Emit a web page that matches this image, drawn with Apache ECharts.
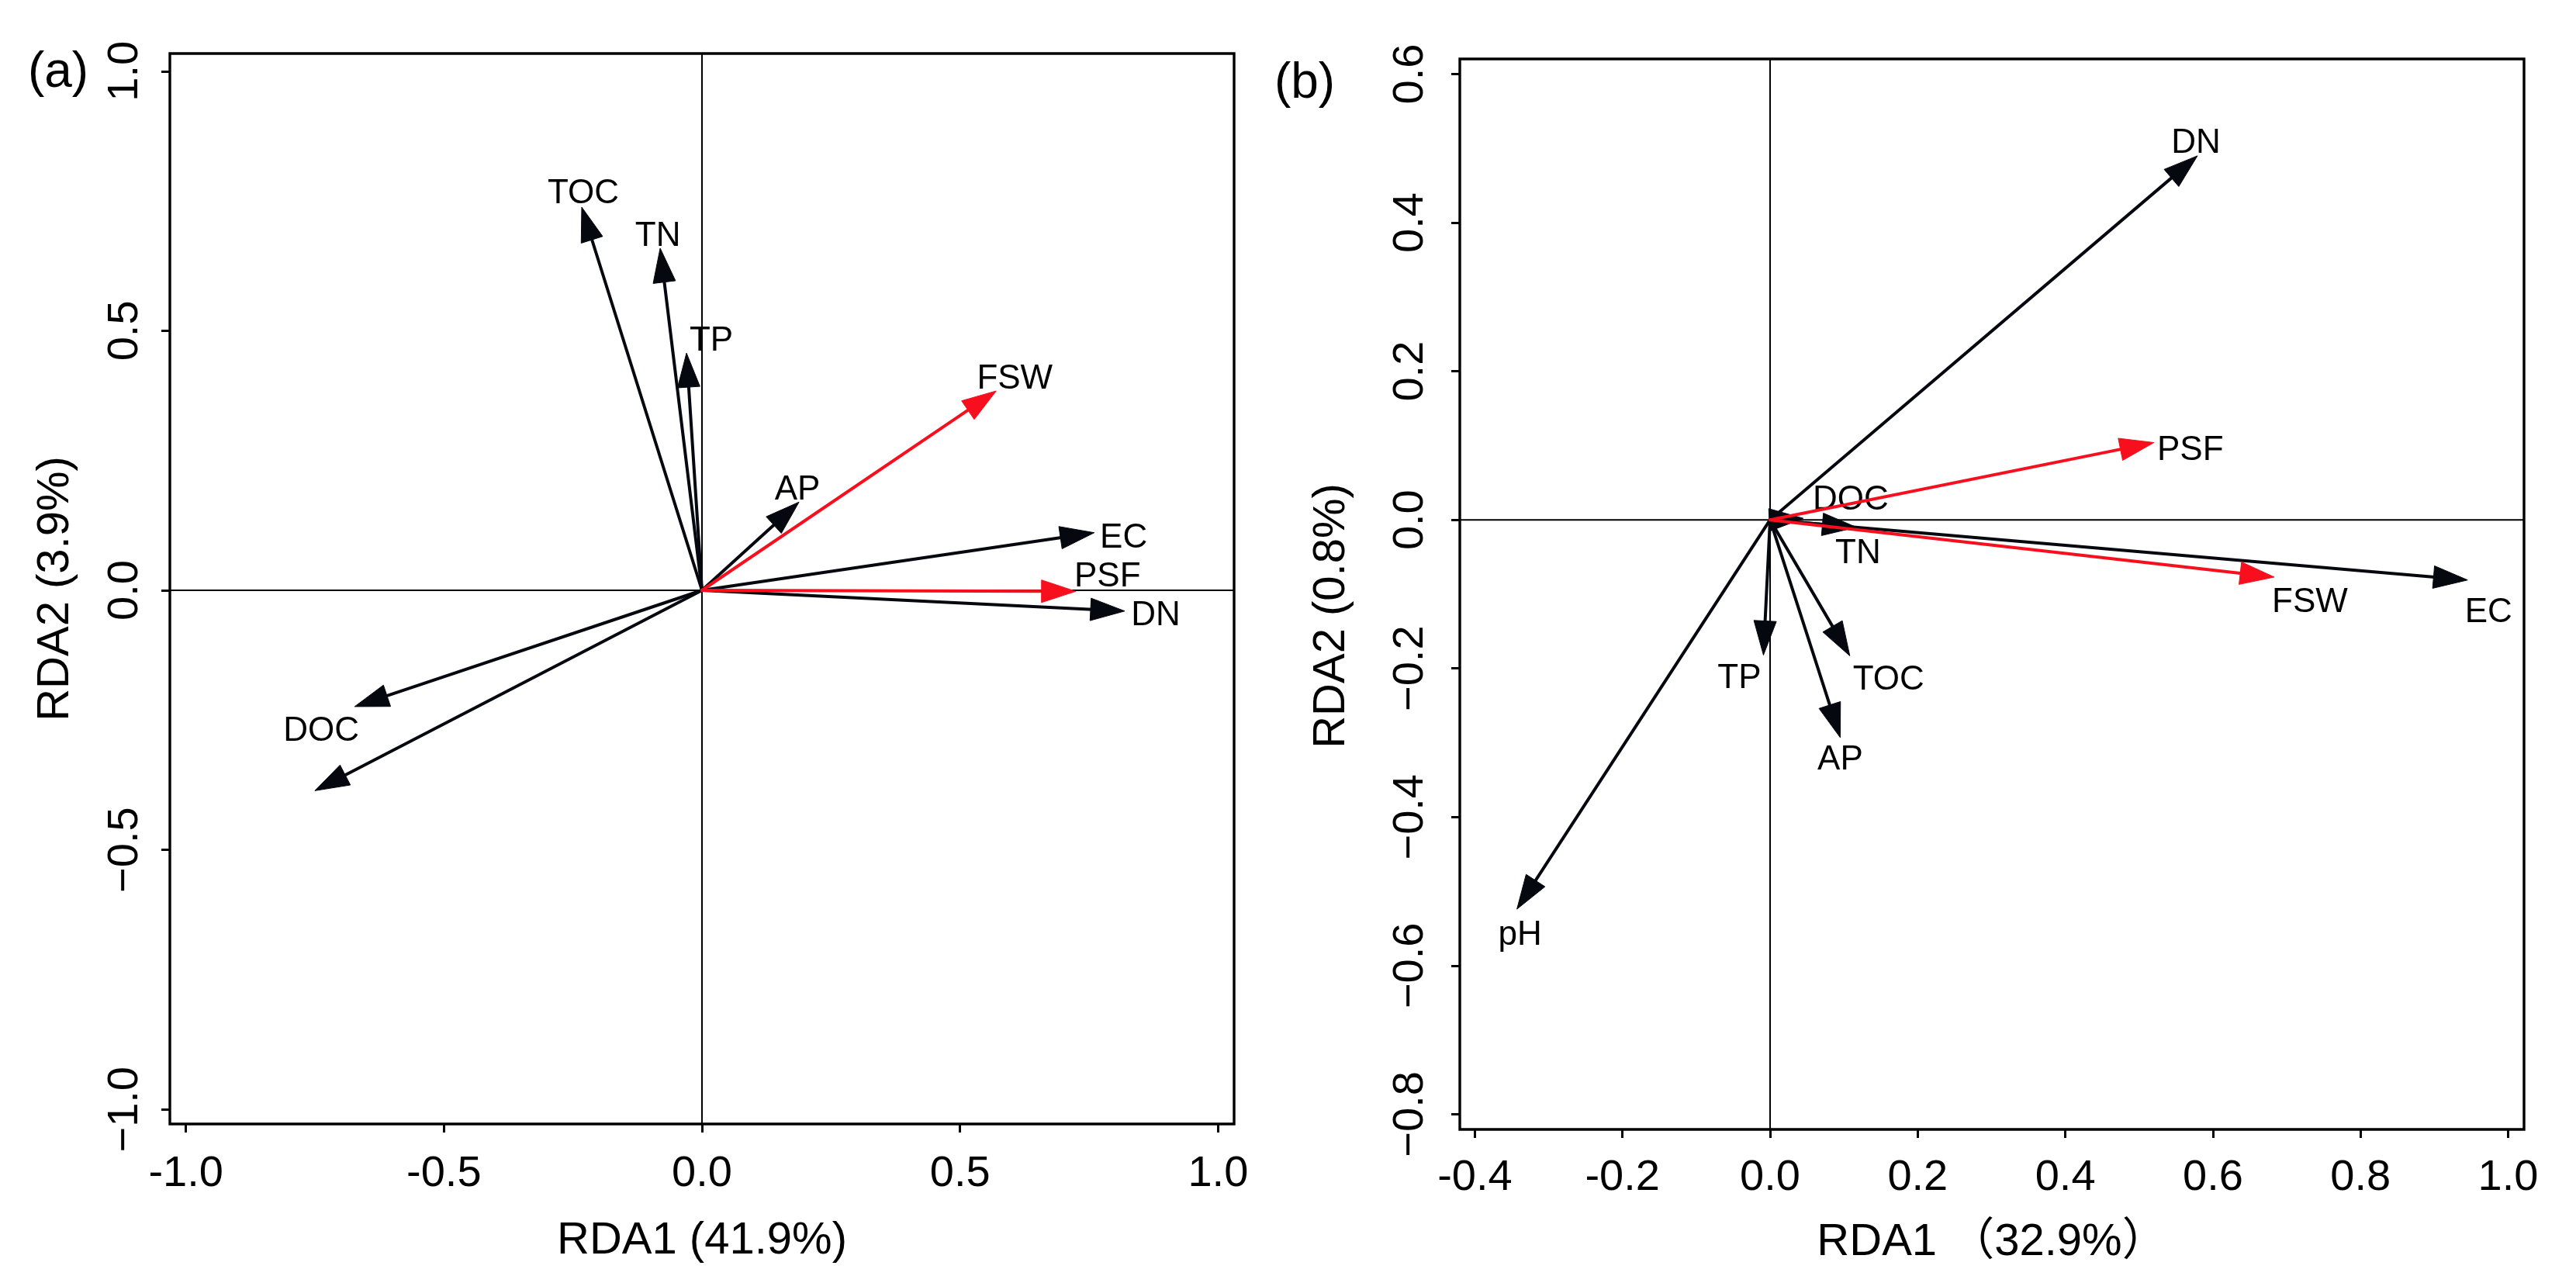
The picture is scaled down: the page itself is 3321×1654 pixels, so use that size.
<!DOCTYPE html>
<html><head><meta charset="utf-8">
<script src="https://cdn.jsdelivr.net/npm/echarts@6/dist/echarts.min.js"></script>
<style>html,body{margin:0;padding:0;background:#fff}#c{width:3321px;height:1654px}</style>
</head><body><div id="c"></div>
<script>
// ---------- Panel (a) ----------
const varsA = ['TOC', 'TN', 'TP', 'AP', 'EC', 'DN', 'DOC', 'pH', 'FSW', 'PSF'];
const rda1A = [-0.233, -0.081, -0.030, 0.188, 0.760, 0.819, -0.673, -0.750, 0.570, 0.724];
const rda2A = [0.738, 0.659, 0.457, 0.170, 0.111, -0.040, -0.224, -0.386, 0.384, -0.002];
const responseA = ['FSW', 'PSF'];
const xTicksA = [-1.0, -0.5, 0.0, 0.5, 1.0];
const yTicksA = [-1.0, -0.5, 0.0, 0.5, 1.0];
const xRangeA = [-1.031, 1.031];
const yRangeA = [-1.028, 1.034];

// ---------- Panel (b) ----------
const varsB = ['DN', 'DOC', 'TN', 'EC', 'TP', 'TOC', 'AP', 'pH', 'PSF', 'FSW'];
const rda1B = [0.579, 0.045, 0.117, 0.945, -0.009, 0.108, 0.095, -0.343, 0.520, 0.683];
const rda2B = [0.490, 0.002, -0.010, -0.081, -0.182, -0.183, -0.293, -0.524, 0.104, -0.077];
const responseB = ['PSF', 'FSW'];
const xTicksB = [-0.4, -0.2, 0.0, 0.2, 0.4, 0.6, 0.8, 1.0];
const yTicksB = [-0.8, -0.6, -0.4, -0.2, 0.0, 0.2, 0.4, 0.6];
const xRangeB = [-0.4204, 1.0215];
const yRangeB = [-0.8205, 0.6204];

// ---------- styling (label placement offsets in px from arrow tip) ----------
const labelOffA = {TOC:[2,-17], TN:[-3,-15], TP:[32,-15], FSW:[24,-15], AP:[-2,-15],
  EC:[38,7], PSF:[41,-18], DN:[40,6], DOC:[-43,32], pH:null};
const labelOffB = {DN:[-2,-16], PSF:[47,10], DOC:[61,-23], TN:[2,34], FSW:[46,33],
  EC:[27,42], TP:[-31,30], TOC:[50,31], AP:[0,29], pH:[4,34]};

const BLACK = '#05080f', RED = '#f70f1e';
const FONT = "'Liberation Sans', Arial, 'Noto Sans CJK SC', sans-serif";
const HEAD_L = 44, HEAD_W = 14.5, SHAFT_W = 4;

function arrowSeries(gi, names, xs, ys, resp, offs, red) {
  const items = [];
  names.forEach((n, i) => { if (resp.includes(n) === red) items.push({n, x: xs[i], y: ys[i]}); });
  const color = red ? RED : BLACK;
  return {
    type: 'custom', xAxisIndex: gi, yAxisIndex: gi, z: red ? 4 : 3, clip: false, silent: true,
    data: items.map(d => [d.x, d.y]),
    renderItem(params, api) {
      const it = items[params.dataIndex];
      const o = api.coord([0, 0]);
      const t = api.coord([api.value(0), api.value(1)]);
      const dx = t[0] - o[0], dy = t[1] - o[1];
      const len = Math.sqrt(dx * dx + dy * dy) || 1;
      const ux = dx / len, uy = dy / len, nx = -uy, ny = ux;
      const bx = t[0] - ux * HEAD_L, by = t[1] - uy * HEAD_L;
      const children = [];
      if (len > HEAD_L) {
        const sx = t[0] - ux * HEAD_L * 0.7, sy = t[1] - uy * HEAD_L * 0.7;
        children.push({type: 'line', shape: {x1: o[0], y1: o[1], x2: sx, y2: sy},
          style: {stroke: color, lineWidth: SHAFT_W, lineCap: 'round'}});
      }
      children.push({type: 'polygon', shape: {points: [[t[0], t[1]],
          [bx + nx * HEAD_W, by + ny * HEAD_W], [bx - nx * HEAD_W, by - ny * HEAD_W]]},
        style: {fill: color, stroke: color, lineWidth: 1}});
      const off = offs[it.n];
      if (off) {
        children.push({type: 'text', x: t[0] + off[0], y: t[1] + off[1],
          style: {text: it.n, fill: '#000', font: "44px " + FONT, align: 'center', verticalAlign: 'middle'}});
      }
      return {type: 'group', children};
    }
  };
}

function zeroLines(gi, xr, yr) {
  const ls = {color: '#000', width: 2, opacity: 1};
  return [
    {type: 'line', xAxisIndex: gi, yAxisIndex: gi, z: 1, silent: true, showSymbol: false,
      lineStyle: ls, emphasis: {disabled: true}, data: [[xr[0], 0], [xr[1], 0]]},
    {type: 'line', xAxisIndex: gi, yAxisIndex: gi, z: 1, silent: true, showSymbol: false,
      lineStyle: ls, emphasis: {disabled: true}, data: [[0, yr[0]], [0, yr[1]]]}
  ];
}

const fmtX = v => v.toFixed(1);
const fmtY = v => (v < 0 ? '\u2212' + Math.abs(v).toFixed(1) : v.toFixed(1));

function xAxis(gi, range, ticks, name, margin, gap) {
  return {type: 'value', gridIndex: gi, min: range[0], max: range[1], position: 'bottom',
    axisLine: {show: false, onZero: false}, splitLine: {show: false},
    axisTick: {show: true, inside: false, customValues: ticks, length: 11, lineStyle: {color: '#000', width: 3}},
    axisLabel: {show: true, customValues: ticks, formatter: fmtX, margin, color: '#000',
      fontSize: 56, fontFamily: FONT},
    name, nameLocation: 'middle', nameGap: gap,
    nameTextStyle: {color: '#000', fontSize: 58, fontFamily: FONT}};
}
function yAxis(gi, range, ticks, name, margin, gap, pad) {
  return {type: 'value', gridIndex: gi, min: range[0], max: range[1], position: 'left',
    axisLine: {show: false, onZero: false}, splitLine: {show: false},
    axisTick: {show: true, inside: false, customValues: ticks, length: 11, lineStyle: {color: '#000', width: 3}},
    axisLabel: {show: true, customValues: ticks, formatter: fmtY, margin, rotate: 90, color: '#000',
      fontSize: 56, fontFamily: FONT},
    name, nameLocation: 'middle', nameGap: gap,
    nameTextStyle: {color: '#000', fontSize: 58, fontFamily: FONT, padding: pad}};
}

const chart = echarts.init(document.getElementById('c'), null, {renderer: 'canvas'});
chart.setOption({
  backgroundColor: '#fff',
  animation: false,
  grid: [
    {left: 219, top: 69, width: 1372, height: 1380, show: true, borderColor: '#000', borderWidth: 3.4,
      outerBoundsMode: 'none', containLabel: false},
    {left: 1882, top: 76, width: 1372, height: 1380, show: true, borderColor: '#000', borderWidth: 3.4,
      outerBoundsMode: 'none', containLabel: false}
  ],
  xAxis: [
    xAxis(0, xRangeA, xTicksA, 'RDA1 (41.9%)', 37, 122),
    xAxis(1, xRangeB, xTicksB, 'RDA1 \uff0832.9%\uff09', 35, 117)
  ],
  yAxis: [
    yAxis(0, yRangeA, yTicksA, 'RDA2 (3.9%)', 29, 118, [0, 0, 0, 0]),
    yAxis(1, yRangeB, yTicksB, 'RDA2 (0.8%)', 35, 136, [0, 56, 0, 0])
  ],
  graphic: [
    {type: 'text', x: 75, y: 94, style: {text: '(a)', font: '64px ' + FONT, fill: '#000', align: 'center', verticalAlign: 'middle'}},
    {type: 'text', x: 1682, y: 108, style: {text: '(b)', font: '64px ' + FONT, fill: '#000', align: 'center', verticalAlign: 'middle'}}
  ],
  series: [
    ...zeroLines(0, xRangeA, yRangeA),
    ...zeroLines(1, xRangeB, yRangeB),
    arrowSeries(0, varsA, rda1A, rda2A, responseA, labelOffA, false),
    arrowSeries(0, varsA, rda1A, rda2A, responseA, labelOffA, true),
    arrowSeries(1, varsB, rda1B, rda2B, responseB, labelOffB, false),
    arrowSeries(1, varsB, rda1B, rda2B, responseB, labelOffB, true)
  ]
});
</script></body></html>
